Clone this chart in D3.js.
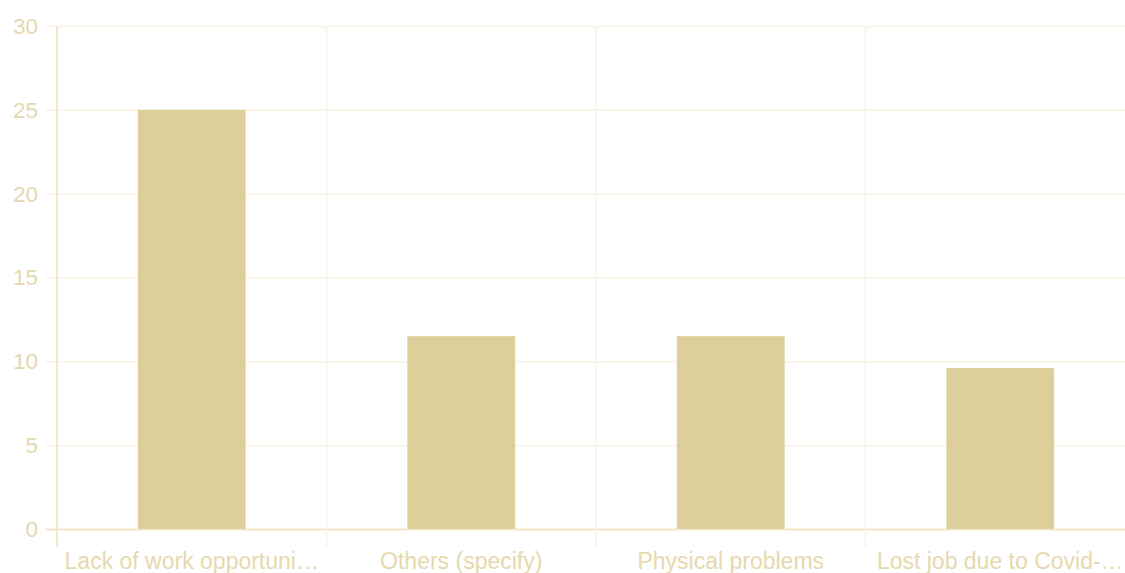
<!DOCTYPE html>
<html><head><meta charset="utf-8">
<script src="https://cdn.jsdelivr.net/npm/d3@7"></script>
<style>body{margin:0;background:#fff;overflow:hidden;}svg{display:block;}</style>
</head><body>
<svg id="chart" width="1125" height="573"></svg>
<script>
const categories = ["Lack of work opportuni…", "Others (specify)", "Physical problems", "Lost job due to Covid-…"];
const values = [25, 11.5, 11.5, 9.6];
const yTicks = [0, 5, 10, 15, 20, 25, 30];

const svg = d3.select("#chart");
const m = {left: 57, top: 26, bottom: 44};
const W = 1125, H = 573;
const x = d3.scaleBand().domain(categories).range([m.left, m.left + 4 * 269.5]).paddingInner(0).paddingOuter(0);
const y = d3.scaleLinear().domain([0, 30]).range([H - m.bottom, m.top]);

const gridColor = "#f8f3e4";
const axisColor = "#f1e8cc";
const textColor = "#e6d9ad";
const barColor = "#dccf9a";

// horizontal grid
svg.append("g").selectAll("line").data(yTicks).join("line")
  .attr("x1", m.left - 12).attr("x2", W)
  .attr("y1", d => y(d) + 0.5).attr("y2", d => y(d) + 0.5)
  .attr("stroke", d => d === 0 ? axisColor : gridColor).attr("stroke-width", d => d === 0 ? 2 : 1.5);

// vertical grid
const vx = categories.map(c => x(c)).concat([x(categories[categories.length-1]) + x.bandwidth()]);
svg.append("g").selectAll("line").data(vx.slice(1)).join("line")
  .attr("x1", d => d).attr("x2", d => d)
  .attr("y1", m.top).attr("y2", y(0) + 18)
  .attr("stroke", gridColor).attr("stroke-width", 1.5);
svg.append("line").attr("x1", m.left).attr("x2", m.left)
  .attr("y1", m.top).attr("y2", y(0) + 18)
  .attr("stroke", axisColor).attr("stroke-width", 2);

// bars
const bw = x.bandwidth() * 0.4;
svg.append("g").selectAll("rect").data(values).join("rect")
  .attr("x", (d, i) => x(categories[i]) + (x.bandwidth() - bw) / 2)
  .attr("width", bw)
  .attr("y", d => y(d))
  .attr("height", d => y(0) - y(d))
  .attr("fill", barColor);

// y labels
svg.append("g").selectAll("text").data(yTicks).join("text")
  .attr("x", 38).attr("y", d => y(d)).attr("dy", "0.35em")
  .attr("text-anchor", "end")
  .attr("font-family", "Liberation Sans, Arial, sans-serif").attr("font-size", 22.5)
  .attr("fill", textColor).text(d => d);

// x labels
svg.append("g").selectAll("text").data(categories).join("text")
  .attr("x", d => x(d) + x.bandwidth() / 2).attr("y", y(0) + 31.5)
  .attr("dy", "0.35em")
  .attr("text-anchor", "middle")
  .attr("font-family", "Liberation Sans, Arial, sans-serif").attr("font-size", 23)
  .attr("fill", textColor).text(d => d);
</script>
</body></html>
